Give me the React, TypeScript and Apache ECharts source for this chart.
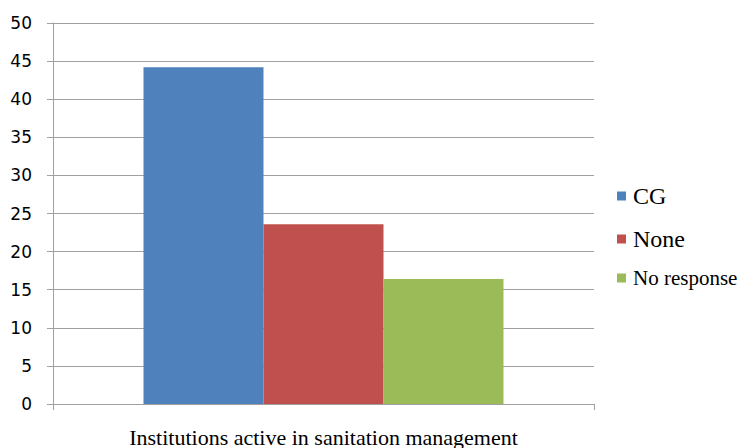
import React, { useEffect, useRef } from "react";
import * as echarts from "echarts";

const categories = ["Institutions active in sanitation management"];
const seriesNames = ["CG", "None", "No response"];
const cgValues = [44.2];
const noneValues = [23.6];
const noResponseValues = [16.4];
const colors = ["#4F81BD", "#C0504D", "#9BBB59"];
const yTicks = { min: 0, max: 50, interval: 5 };

export default function App() {
  const ref = useRef<HTMLDivElement>(null);
  useEffect(() => {
    if (!ref.current) return;
    const chart = echarts.init(ref.current, null, { renderer: "svg" });
    const serif = "Liberation Serif";
    const values = [cgValues, noneValues, noResponseValues];
    const legendY = [196, 239, 278];
    const legendSize = [24, 24, 21];
    const graphics: any[] = [];
    seriesNames.forEach((name, i) => {
      graphics.push({
        type: "rect",
        shape: { x: 617, y: legendY[i] - 4.5, width: 9, height: 9 },
        style: { fill: colors[i] },
      });
      graphics.push({
        type: "text",
        x: 633,
        y: legendY[i],
        style: {
          text: name,
          font: legendSize[i] + "px \"Liberation Serif\", \"Times New Roman\", serif",
          fontFamily: "\"Liberation Serif\", \"Times New Roman\", serif",
          fontSize: legendSize[i],
          fill: "#000",
          verticalAlign: "middle",
          align: "left",
        },
      });
    });
    chart.setOption({
      animation: false,
      backgroundColor: "#ffffff",
      grid: { left: 53, right: 153, top: 23, bottom: 42, containLabel: false },
      legend: { show: false, data: seriesNames },
      graphic: graphics,
      xAxis: {
        type: "category",
        data: categories,
        boundaryGap: true,
        axisLine: { show: true, lineStyle: { color: "#a0a0a0", width: 1 } },
        axisTick: { show: true, length: 6, alignWithLabel: false, lineStyle: { color: "#a0a0a0" } },
        axisLabel: { fontFamily: serif, fontSize: 22, color: "#000", margin: 22 },
      },
      yAxis: {
        type: "value",
        min: yTicks.min,
        max: yTicks.max,
        interval: yTicks.interval,
        axisLine: { show: true, lineStyle: { color: "#a0a0a0", width: 1 } },
        axisTick: { show: true, length: 6, lineStyle: { color: "#a0a0a0" } },
        splitLine: { show: true, lineStyle: { color: "#a0a0a0", width: 1 } },
        axisLabel: { fontFamily: "DejaVu Sans", fontSize: 17, color: "#000", margin: 21 },
      },
      series: seriesNames.map((name, i) => ({
        name,
        type: "bar",
        data: values[i],
        barWidth: 120,
        barGap: "0%",
        itemStyle: { color: colors[i] },
      })),
    });
    return () => chart.dispose();
  }, []);
  return (
    <div
      ref={ref}
      style={{ position: "fixed", left: 0, top: 0, width: 747, height: 448, background: "#fff" }}
    />
  );
}
